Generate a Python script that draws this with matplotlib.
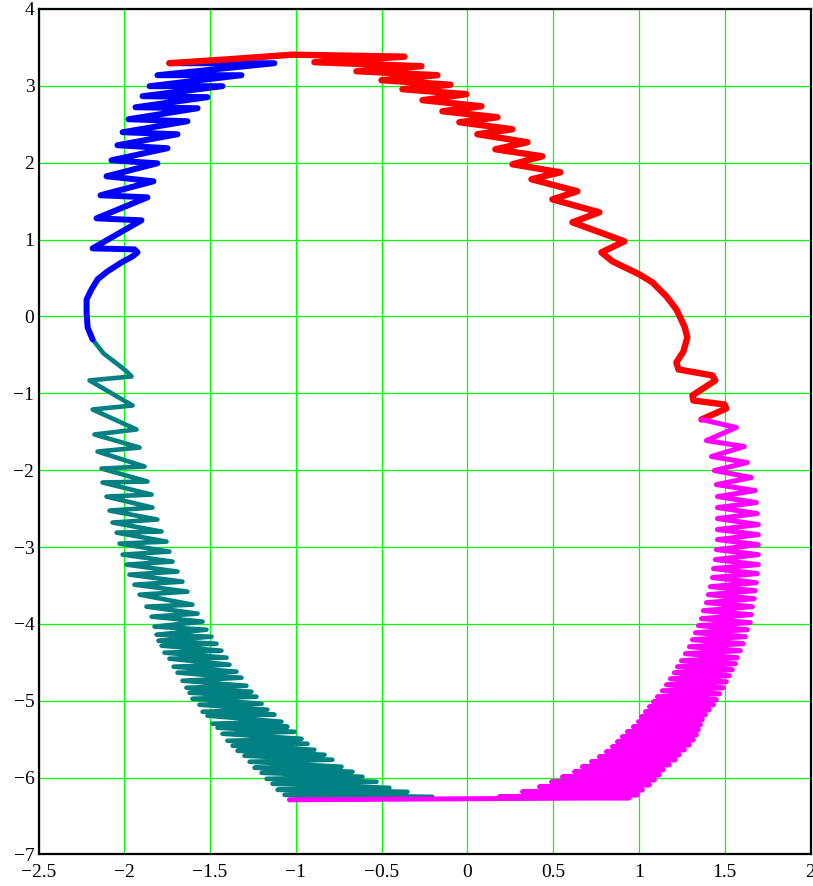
import matplotlib
matplotlib.use("Agg")
import matplotlib.pyplot as plt

# trace 1 (red): top-left down the right side
red_x = [-1.737, -1.387, -1.020, -0.367, -0.892, -0.268, -0.647, -0.175, -0.501, -0.099,
         -0.379, -0.006, -0.262, 0.082, -0.146, 0.175, -0.047, 0.262, 0.058, 0.350,
         0.163, 0.437, 0.262, 0.542, 0.373, 0.641, 0.495, 0.769, 0.612, 0.915,
         0.781, 0.845, 1.002, 1.078, 1.160, 1.218, 1.265, 1.282, 1.259, 1.218,
         1.230, 1.428, 1.445, 1.311, 1.317, 1.498, 1.509, 1.364]
red_y = [3.294, 3.346, 3.405, 3.379, 3.307, 3.255, 3.190, 3.138, 3.073, 3.014,
         2.956, 2.891, 2.813, 2.734, 2.669, 2.591, 2.526, 2.435, 2.370, 2.266,
         2.174, 2.083, 1.979, 1.875, 1.784, 1.628, 1.523, 1.354, 1.224, 0.977,
         0.833, 0.716, 0.547, 0.443, 0.260, 0.091, -0.130, -0.273, -0.456, -0.599,
         -0.690, -0.768, -0.833, -1.029, -1.094, -1.146, -1.198, -1.341]

# trace 2 (magenta): right side down to the bottom
mag_x = [1.364, 1.568, 1.393, 1.614, 1.422, 1.632, 1.439, 1.655, 1.451, 1.678,
         1.457, 1.684, 1.457, 1.690, 1.457, 1.696, 1.457, 1.696, 1.457, 1.696,
         1.451, 1.696, 1.445, 1.696, 1.434, 1.690, 1.428, 1.684, 1.416, 1.678,
         1.404, 1.672, 1.393, 1.661, 1.375, 1.655, 1.364, 1.649, 1.346, 1.632,
         1.329, 1.620, 1.311, 1.608, 1.294, 1.591, 1.270, 1.573, 1.247, 1.562,
         1.224, 1.544, 1.206, 1.527, 1.183, 1.509, 1.160, 1.492, 1.136, 1.469,
         1.107, 1.451, 1.084, 1.434, 1.061, 1.410, 1.037, 1.387, 1.014, 1.369,
         0.997, 1.358, 0.967, 1.346, 0.932, 1.335, 0.903, 1.317, 0.874, 1.294,
         0.845, 1.265, 0.810, 1.235, 0.769, 1.212, 0.723, 1.177, 0.670, 1.142,
         0.624, 1.119, 0.554, 1.090, 0.490, 1.061, 0.420, 1.020, 0.321, 0.991,
         0.186, 0.944, -1.037]
mag_y = [-1.341, -1.445, -1.615, -1.693, -1.823, -1.901, -2.005, -2.096, -2.188, -2.266,
         -2.344, -2.422, -2.487, -2.565, -2.630, -2.708, -2.773, -2.839, -2.904, -2.969,
         -3.034, -3.099, -3.164, -3.229, -3.281, -3.346, -3.398, -3.464, -3.516, -3.568,
         -3.620, -3.672, -3.724, -3.776, -3.828, -3.880, -3.932, -3.984, -4.023, -4.076,
         -4.115, -4.167, -4.206, -4.258, -4.297, -4.349, -4.388, -4.440, -4.479, -4.518,
         -4.557, -4.596, -4.635, -4.674, -4.714, -4.753, -4.792, -4.831, -4.870, -4.909,
         -4.948, -4.987, -5.013, -5.052, -5.078, -5.117, -5.143, -5.182, -5.208, -5.247,
         -5.273, -5.313, -5.339, -5.378, -5.404, -5.443, -5.469, -5.508, -5.534, -5.573,
         -5.599, -5.638, -5.664, -5.703, -5.729, -5.768, -5.794, -5.833, -5.859, -5.898,
         -5.924, -5.964, -5.990, -6.029, -6.055, -6.094, -6.120, -6.159, -6.185, -6.224,
         -6.250, -6.263, -6.289]

# trace 3 (teal): left side, listed from top to bottom
teal_x = [-2.185, -2.121, -2.045, -1.993, -1.958, -2.203, -1.952, -2.185, -1.929, -2.174,
          -1.911, -2.156, -1.882, -2.133, -1.865, -2.127, -1.841, -2.104, -1.836, -2.086,
          -1.807, -2.069, -1.783, -2.045, -1.754, -2.028, -1.737, -2.010, -1.719, -1.987,
          -1.690, -1.970, -1.661, -1.941, -1.632, -1.911, -1.603, -1.871, -1.573, -1.841,
          -1.544, -1.824, -1.521, -1.812, -1.492, -1.801, -1.463, -1.783, -1.434, -1.766,
          -1.404, -1.737, -1.387, -1.713, -1.346, -1.690, -1.317, -1.661, -1.288, -1.638,
          -1.259, -1.620, -1.230, -1.603, -1.200, -1.562, -1.166, -1.544, -1.125, -1.515,
          -1.084, -1.486, -1.049, -1.457, -1.008, -1.428, -0.967, -1.399, -0.932, -1.369,
          -0.892, -1.340, -0.833, -1.300, -0.787, -1.270, -0.734, -1.241, -0.670, -1.200,
          -0.612, -1.171, -0.530, -1.136, -0.455, -1.107, -0.350, -1.066, -0.204, -1.037]
teal_y = [-0.299, -0.482, -0.612, -0.703, -0.781, -0.833, -1.159, -1.211, -1.471, -1.536,
          -1.706, -1.758, -1.953, -1.979, -2.148, -2.161, -2.318, -2.344, -2.487, -2.526,
          -2.643, -2.682, -2.799, -2.813, -2.930, -2.956, -3.060, -3.099, -3.190, -3.229,
          -3.320, -3.359, -3.451, -3.490, -3.581, -3.620, -3.750, -3.776, -3.867, -3.906,
          -3.971, -4.036, -4.076, -4.141, -4.167, -4.219, -4.258, -4.284, -4.349, -4.375,
          -4.440, -4.453, -4.531, -4.557, -4.622, -4.635, -4.701, -4.740, -4.805, -4.831,
          -4.883, -4.896, -4.948, -4.974, -5.039, -5.052, -5.117, -5.143, -5.182, -5.195,
          -5.273, -5.299, -5.339, -5.352, -5.404, -5.430, -5.495, -5.521, -5.560, -5.586,
          -5.638, -5.651, -5.703, -5.716, -5.768, -5.794, -5.859, -5.872, -5.924, -5.938,
          -5.990, -6.016, -6.055, -6.081, -6.133, -6.159, -6.185, -6.224, -6.250, -6.289]

# trace 4 (blue): left side, from the bottom up to the top
blue_x = [-2.185, -2.214, -2.220, -2.220, -2.191, -2.156, -2.098, -2.016, -1.952, -1.923,
          -1.941, -2.185, -1.900, -2.162, -1.865, -2.139, -1.830, -2.104, -1.807, -2.075,
          -1.748, -2.040, -1.690, -2.010, -1.632, -1.976, -1.573, -1.935, -1.515, -1.894,
          -1.428, -1.853, -1.317, -1.807, -1.125, -1.737]
blue_y = [-0.299, -0.143, 0.052, 0.221, 0.352, 0.482, 0.586, 0.703, 0.781, 0.833,
          0.872, 0.885, 1.250, 1.276, 1.549, 1.576, 1.758, 1.823, 1.992, 2.031,
          2.188, 2.227, 2.370, 2.396, 2.539, 2.565, 2.708, 2.721, 2.852, 2.865,
          2.995, 2.995, 3.138, 3.138, 3.294, 3.294]

x_ticks = [-2.5, -2, -1.5, -1, -0.5, 0, 0.5, 1, 1.5, 2]
x_labels = ["\u22122.5", "\u22122", "\u22121.5", "\u22121", "\u22120.5", "0", "0.5", "1", "1.5", "2"]
y_ticks = [-7, -6, -5, -4, -3, -2, -1, 0, 1, 2, 3, 4]
y_labels = ["\u22127", "\u22126", "\u22125", "\u22124", "\u22123", "\u22122", "\u22121", "0", "1", "2", "3", "4"]

plt.rcParams['font.family'] = ['Liberation Serif', 'DejaVu Serif']

fig = plt.figure(figsize=(8.13, 8.86), dpi=100, facecolor="white")
ax = fig.add_axes([0.0474, 0.0356, 0.9496, 0.9543])

style = dict(solid_capstyle='round', solid_joinstyle='round')
ax.plot(teal_x, teal_y, color='#008080', lw=3.3, zorder=3, **style)
ax.plot(blue_x, blue_y, color='#0000ff', lw=4.3, zorder=4, **style)
ax.plot(red_x, red_y, color='#ff0000', lw=4.6, zorder=5, **style)
ax.plot(mag_x, mag_y, color='#ff00ff', lw=3.6, zorder=6, **style)

ax.set_xlim(-2.5, 2)
ax.set_ylim(-7, 4)
ax.set_xticks(x_ticks)
ax.set_xticklabels(x_labels)
ax.set_yticks(y_ticks)
ax.set_yticklabels(y_labels)
ax.grid(True, color='#00ff00', lw=0.9, zorder=0)
ax.set_axisbelow(True)
ax.tick_params(length=0, labelsize=14)
ax.tick_params(axis='x', pad=7)
ax.tick_params(axis='y', pad=3)
for s in ax.spines.values():
    s.set_linewidth(1.6)
    s.set_color('black')

fig.savefig("out.png", dpi=100)
